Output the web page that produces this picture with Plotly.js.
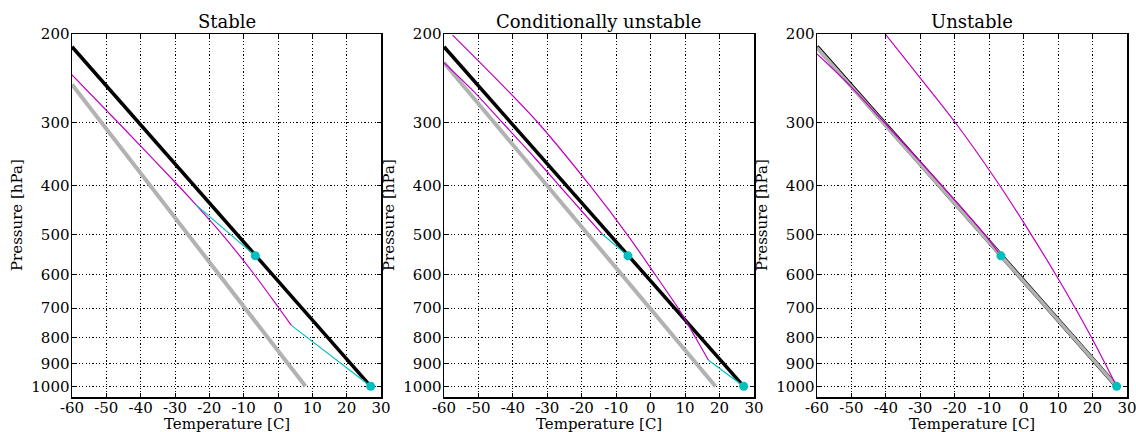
<!DOCTYPE html>
<html>
<head>
<meta charset="utf-8">
<script src="https://cdn.plot.ly/plotly-3.0.1.min.js"></script>
<style>html,body{margin:0;padding:0;background:#fff}#chart{width:1136px;height:432px}</style>
</head>
<body>
<div id="chart"></div>
<script>
// ---- data (temperature in deg C, pressure in hPa) ----
const panelTitles = ["Stable", "Conditionally unstable", "Unstable"];
const tempTicks = [-60, -50, -40, -30, -20, -10, 0, 10, 20, 30];
const pressureTicks = [200, 300, 400, 500, 600, 700, 800, 900, 1000];

// Stable
const stableEnvT = [27, -60];
const stableEnvP = [1000, 212];
const stableRefT = [8, -60];
const stableRefP = [1000, 252];
const stableMoistT = [3.9, 0.3, -6.9, -16.2, -23.8, -29.0, -46.5, -60];
const stableMoistP = [757, 700, 600, 500, 437, 400, 300, 241];
const stableDry1T = [27, 3.9];
const stableDry1P = [1000, 757];
const stableDry2T = [-6.6, -23.8];
const stableDry2P = [551, 437];
const stableDotsT = [27, -6.6];
const stableDotsP = [1000, 551];

// Conditionally unstable
const condEnvT = [27, -60];
const condEnvP = [1000, 212];
const condRefT = [18.8, -60];
const condRefP = [1000, 228];
const condMoist1T = [16.8, 13.0, 9.5, 8.0, 1.3, -6.8, -17.6, -32.7, -43.7, -57.5];
const condMoist1P = [888, 800, 727, 700, 600, 500, 400, 300, 250, 201];
const condMoist2T = [-14.2, -19.9, -26.5, -34.0, -43.0, -51.4, -60];
const condMoist2P = [498, 450, 400, 350, 300, 260, 228];
const condDry1T = [27, 16.8];
const condDry1P = [1000, 888];
const condDry2T = [-6.6, -14.2];
const condDry2P = [551, 498];
const condDotsT = [27, -6.6];
const condDotsP = [1000, 551];

// Unstable
const unstEnvT = [27, -60];
const unstEnvP = [1000, 212];
const unstRefT = [27, -60];
const unstRefP = [1000, 213];
const unstMoist1T = [27, 23.6, 19.7, 15.0, 9.3, 2.2, -6.9, -19.8, -28.9, -40.2];
const unstMoist1P = [1000, 900, 800, 700, 600, 500, 400, 300, 250, 200];
const unstMoist2T = [-6.6, -11.3, -23.7, -40.4, -51.2, -60];
const unstMoist2P = [551, 500, 400, 300, 250, 219];
const unstDotsT = [27, -6.6];
const unstDotsP = [1000, 551];

// ---- styles ----
const BLACK = "#000000", GRAY = "#b2b2b2", MAG = "#bf00bf", CYAN = "#00bfbf";
const SERIF = "DejaVu Serif, serif";

function line(T, P, ax, color, width, smooth) {
  const ln = {color: color, width: width};
  if (smooth) { ln.shape = "spline"; ln.smoothing = 0.8; }
  return {x: T, y: P, xaxis: "x" + ax, yaxis: "y" + ax, type: "scatter", mode: "lines",
          line: ln, hoverinfo: "skip", showlegend: false};
}
function dots(T, P, ax) {
  return {x: T, y: P, xaxis: "x" + ax, yaxis: "y" + ax, type: "scatter", mode: "markers",
          marker: {color: CYAN, size: 9, line: {width: 0}}, hoverinfo: "skip", showlegend: false};
}

const traces = [
  line(stableEnvT, stableEnvP, "", BLACK, 3.5),
  line(stableRefT, stableRefP, "", GRAY, 4),
  line(stableMoistT, stableMoistP, "", MAG, 1.2, true),
  line(stableDry1T, stableDry1P, "", CYAN, 1.2),
  line(stableDry2T, stableDry2P, "", CYAN, 1.2),
  dots(stableDotsT, stableDotsP, ""),

  line(condEnvT, condEnvP, "2", BLACK, 3.5),
  line(condRefT, condRefP, "2", GRAY, 4),
  line(condMoist1T, condMoist1P, "2", MAG, 1.2, true),
  line(condMoist2T, condMoist2P, "2", MAG, 1.2, true),
  line(condDry1T, condDry1P, "2", CYAN, 1.2),
  line(condDry2T, condDry2P, "2", CYAN, 1.2),
  dots(condDotsT, condDotsP, "2"),

  line(unstEnvT, unstEnvP, "3", BLACK, 4.2),
  line(unstRefT, unstRefP, "3", GRAY, 3.6),
  line(unstMoist1T, unstMoist1P, "3", MAG, 1.2, true),
  line(unstMoist2T, unstMoist2P, "3", MAG, 1.2, true),
  dots(unstDotsT, unstDotsP, "3")
];

const W = 1136, H = 432;
const xDomains = [[72 / W, 381 / W], [444 / W, 754 / W], [817 / W, 1127 / W]];
const yDomain = [(H - 397) / H, (H - 34) / H];
const GRIDDASH = "1.2px,2.2px";

function xaxis(dom, anchor) {
  return {domain: dom, anchor: anchor, range: [-60, 30], tickmode: "array", tickvals: tempTicks,
          ticktext: tempTicks.map(String), showgrid: true, gridcolor: BLACK, griddash: GRIDDASH, gridwidth: 1,
          zeroline: false, showline: true, linecolor: BLACK, linewidth: 1.5, mirror: "ticks",
          ticks: "inside", ticklen: 4, tickcolor: BLACK, ticklabeloverflow: "allow", ticklabelstandoff: -4,
          tickfont: {family: SERIF, size: 15, color: BLACK}};
}
function yaxis(anchor) {
  return {domain: yDomain, anchor: anchor, type: "log", range: [Math.log10(1050), Math.log10(200)],
          tickmode: "array", tickvals: pressureTicks, ticktext: pressureTicks.map(String),
          showgrid: true, gridcolor: BLACK, griddash: GRIDDASH, gridwidth: 1,
          zeroline: false, showline: true, linecolor: BLACK, linewidth: 1.5, mirror: "ticks",
          ticks: "inside", ticklen: 4, tickcolor: BLACK, ticklabeloverflow: "allow", ticklabelstandoff: -2,
          tickfont: {family: SERIF, size: 15, color: BLACK}};
}

const annotations = [];
const yTitleX = [16.5, 388.5, 761.5];
for (let i = 0; i < 3; i++) {
  const cx = (xDomains[i][0] + xDomains[i][1]) / 2;
  annotations.push({text: panelTitles[i], xref: "paper", yref: "paper", x: cx, y: (H - 21) / H,
    xanchor: "center", yanchor: "middle", showarrow: false, font: {family: SERIF, size: 18, color: BLACK}});
  annotations.push({text: "Temperature [C]", xref: "paper", yref: "paper", x: cx, y: (H - 424) / H,
    xanchor: "center", yanchor: "middle", showarrow: false, font: {family: SERIF, size: 15, color: BLACK}});
  annotations.push({text: "Pressure [hPa]", xref: "paper", yref: "paper", x: yTitleX[i] / W,
    y: (yDomain[0] + yDomain[1]) / 2, textangle: -90, xanchor: "center", yanchor: "middle",
    showarrow: false, font: {family: SERIF, size: 15, color: BLACK}});
}

const layout = {
  width: W, height: H, margin: {l: 0, r: 0, t: 0, b: 0},
  paper_bgcolor: "#ffffff", plot_bgcolor: "#ffffff", showlegend: false,
  xaxis: xaxis(xDomains[0], "y"), yaxis: yaxis("x"),
  xaxis2: xaxis(xDomains[1], "y2"), yaxis2: yaxis("x2"),
  xaxis3: xaxis(xDomains[2], "y3"), yaxis3: yaxis("x3"),
  annotations: annotations
};

Plotly.newPlot("chart", traces, layout, {staticPlot: true, displayModeBar: false});
</script>
</body>
</html>
